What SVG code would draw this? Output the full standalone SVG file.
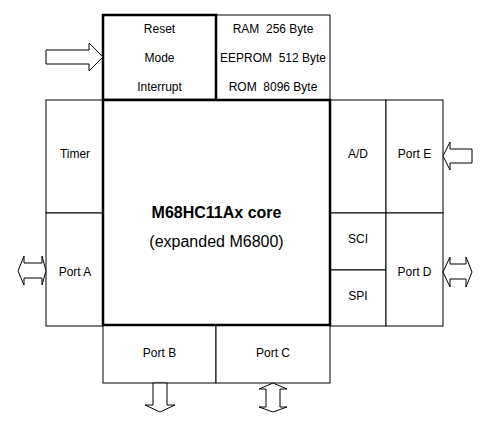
<svg xmlns="http://www.w3.org/2000/svg" width="495" height="426" viewBox="0 0 495 426">
<style>
.box{fill:#fff;stroke:#000;stroke-width:1}
.thick{fill:none;stroke:#000;stroke-width:2.5}
.t{font-family:"Liberation Sans",Arial,sans-serif;font-size:12px;fill:#000;text-anchor:middle;dominant-baseline:central;white-space:pre}
.big{font-family:"Liberation Sans",Arial,sans-serif;font-size:16px;fill:#000;text-anchor:middle;dominant-baseline:central}
.arr{fill:#fff;stroke:#000;stroke-width:1}
</style>
<rect width="495" height="426" fill="#fff"/>
<g id="memory">
<rect class="box" x="216" y="15" width="114" height="85"/>
<text class="t" x="273" y="29" xml:space="preserve">RAM  256 Byte</text>
<text class="t" x="273" y="58" xml:space="preserve">EEPROM  512 Byte</text>
<text class="t" x="273" y="87" xml:space="preserve">ROM  8096 Byte</text>
</g>
<g id="timer">
<rect class="box" x="46" y="100" width="57" height="113"/>
<text class="t" x="75" y="154">Timer</text>
</g>
<g id="portA">
<rect class="box" x="46" y="213" width="57" height="113"/>
<text class="t" x="75" y="272">Port A</text>
</g>
<g id="ad">
<rect class="box" x="330" y="100" width="56" height="113"/>
<text class="t" x="358" y="154">A/D</text>
</g>
<g id="portE">
<rect class="box" x="386" y="100" width="57" height="113"/>
<text class="t" x="414.5" y="154">Port E</text>
</g>
<g id="sci">
<rect class="box" x="330" y="213" width="56" height="57"/>
<text class="t" x="358" y="239">SCI</text>
</g>
<g id="spi">
<rect class="box" x="330" y="270" width="56" height="56"/>
<text class="t" x="358" y="296">SPI</text>
</g>
<g id="portD">
<rect class="box" x="386" y="213" width="57" height="113"/>
<text class="t" x="414.5" y="272">Port D</text>
</g>
<g id="portB">
<rect class="box" x="103" y="325" width="113" height="58"/>
<text class="t" x="159.5" y="353">Port B</text>
</g>
<g id="portC">
<rect class="box" x="216" y="325" width="114" height="58"/>
<text class="t" x="273" y="353">Port C</text>
</g>
<g id="reset">
<rect class="thick" x="103" y="15" width="113" height="85" style="fill:#fff"/>
<text class="t" x="159.5" y="29">Reset</text>
<text class="t" x="159.5" y="58">Mode</text>
<text class="t" x="159.5" y="87">Interrupt</text>
</g>
<g id="core">
<rect class="thick" x="103" y="100" width="227" height="225" style="fill:#fff"/>
<text class="big" x="216.5" y="212" font-weight="bold">M68HC11Ax core</text>
<text class="big" x="216.5" y="241">(expanded M6800)</text>
</g>
<g id="connectors">
<polygon class="arr" points="46,50 89,50 89,43 103,57 89,71 89,64 46,64"/>
<polygon class="arr" points="472,149 450,149 450,142 443,156 450,170 450,163 472,163"/>
<polygon class="arr" points="443,272 450,257 450,264 466,264 466,257 472,272 466,287 466,279 450,279 450,287"/>
<polygon class="arr" points="18,271 24,256 24,263 42,263 42,256 46,271 42,285 42,278 24,278 24,285"/>
<polygon class="arr" points="153,383 167,383 167,405 175,405 160,412 145,405 153,405"/>
<polygon class="arr" points="273,383 287,389 280,389 280,407 287,407 273,412 259,407 266,407 266,389 259,389"/>
</g>
</svg>
